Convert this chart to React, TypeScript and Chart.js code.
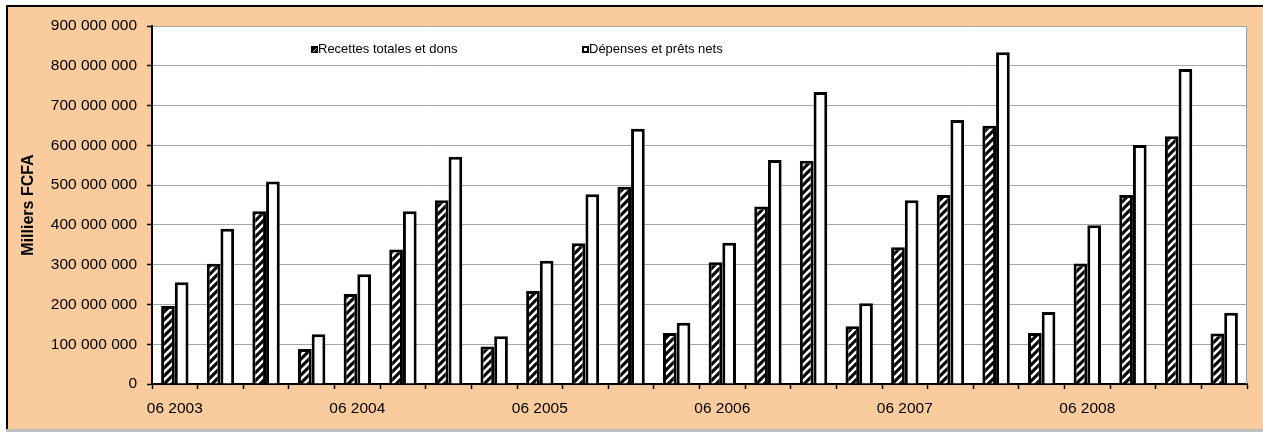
import React, { useEffect, useRef } from "react";
import { Chart, registerables } from "chart.js";

Chart.register(...registerables);

// Quarterly cumulative figures, in thousands of FCFA
const quarters = [
  "06 2003", "09 2003", "12 2003", "03 2004",
  "06 2004", "09 2004", "12 2004", "03 2005",
  "06 2005", "09 2005", "12 2005", "03 2006",
  "06 2006", "09 2006", "12 2006", "03 2007",
  "06 2007", "09 2007", "12 2007", "03 2008",
  "06 2008", "09 2008", "12 2008", "03 2009",
];

const recettes = [
  196e6, 302e6, 434e6, 88e6,
  226e6, 338e6, 462e6, 94e6,
  234e6, 354e6, 496e6, 128e6,
  306e6, 446e6, 561e6, 145e6,
  344e6, 475e6, 649e6, 128e6,
  303e6, 475e6, 623e6, 127e6,
];

const depenses = [
  256e6, 390e6, 509e6, 125e6,
  276e6, 434e6, 571e6, 120e6,
  310e6, 477e6, 642e6, 154e6,
  355e6, 563e6, 734e6, 203e6,
  462e6, 664e6, 834e6, 181e6,
  399e6, 601e6, 792e6, 179e6,
];

const seriesNames = ["Recettes totales et dons", "Dépenses et prêts nets"];

const FONT = "'Liberation Sans', Arial, sans-serif";
const PEACH = "#FACB9C";

function formatThousands(v: number): string {
  return Math.round(v)
    .toString()
    .replace(/\B(?=(\d{3})+(?!\d))/g, " ");
}

function makeHatch(): CanvasPattern | string {
  const s = 8;
  const c = document.createElement("canvas");
  c.width = s;
  c.height = s;
  const g = c.getContext("2d");
  if (!g) return "#000";
  g.fillStyle = "#000";
  g.fillRect(0, 0, s, s);
  g.strokeStyle = "#fff";
  g.lineWidth = 2.6;
  g.beginPath();
  g.moveTo(0, s);
  g.lineTo(s, 0);
  g.moveTo(-2, 2);
  g.lineTo(2, -2);
  g.moveTo(s - 2, s + 2);
  g.lineTo(s + 2, s - 2);
  g.stroke();
  const p = g.createPattern(c, "repeat");
  return p || "#000";
}

export default function App() {
  const canvasRef = useRef<HTMLCanvasElement | null>(null);

  useEffect(() => {
    const canvas = canvasRef.current;
    if (!canvas) return;
    const hatch = makeHatch();

    const plotFrame = {
      id: "plotFrame",
      beforeDraw(chart: any) {
        const { ctx, chartArea: a } = chart;
        ctx.save();
        ctx.fillStyle = "#fff";
        ctx.fillRect(a.left, a.top, a.right - a.left, a.bottom - a.top);
        ctx.restore();
      },
      afterDraw(chart: any) {
        const { ctx, chartArea: a } = chart;
        ctx.save();
        // right edge of plot area
        ctx.strokeStyle = "#9A9A9A";
        ctx.lineWidth = 1;
        ctx.beginPath();
        ctx.moveTo(a.right - 0.5, a.top);
        ctx.lineTo(a.right - 0.5, a.bottom);
        ctx.stroke();

        // legend inside plot area
        const items = [
          { x: a.left + 159, fill: hatch, text: seriesNames[0] },
          { x: a.left + 430, fill: "#fff", text: seriesNames[1] },
        ];
        const y = a.top + 23.5;
        ctx.font = `13px ${FONT}`;
        ctx.textBaseline = "middle";
        ctx.textAlign = "left";
        for (const it of items) {
          ctx.fillStyle = "#000";
          ctx.fillRect(it.x, y - 3.5, 7, 7);
          ctx.fillStyle = "#fff";
          if (it.fill === "#fff") {
            ctx.fillRect(it.x + 2, y - 1.5, 3, 3);
          } else {
            ctx.beginPath();
            ctx.moveTo(it.x + 1.5, y + 2.5);
            ctx.lineTo(it.x + 5.5, y - 1.5);
            ctx.lineTo(it.x + 5.5, y - 0.5);
            ctx.lineTo(it.x + 2.5, y + 2.5);
            ctx.closePath();
            ctx.fill();
          }
          ctx.fillStyle = "#000";
          ctx.fillText(it.text, it.x + 7, y);
        }
        ctx.restore();
      },
    };

    const chart = new Chart(canvas, {
      type: "bar",
      data: {
        labels: quarters,
        datasets: [
          {
            label: seriesNames[0],
            data: recettes,
            backgroundColor: hatch as any,
            borderColor: "#000",
            borderWidth: 3,
          },
          {
            label: seriesNames[1],
            data: depenses,
            backgroundColor: "#fff",
            borderColor: "#000",
            borderWidth: 3,
          },
        ],
      },
      options: {
        responsive: false,
        animation: false,
        layout: { padding: { top: 26, right: 16, bottom: 0, left: 0 } },
        datasets: {
          bar: { categoryPercentage: 0.6, barPercentage: 1.0 },
        },
        plugins: {
          legend: { display: false },
          tooltip: { enabled: false },
        },
        scales: {
          x: {
            afterFit(scale: any) {
              scale.height = 48;
            },
            grid: {
              display: true,
              offset: true,
              drawOnChartArea: false,
              drawTicks: true,
              tickLength: 5,
              tickColor: "#000",
              tickWidth: 1.5,
            },
            border: { display: true, color: "#000", width: 2 },
            ticks: {
              autoSkip: false,
              maxRotation: 0,
              minRotation: 0,
              padding: 10,
              color: "#000",
              font: { family: FONT, size: 15.5 },
              callback: (_v: any, i: number) => (i % 4 === 0 ? quarters[i] : ""),
            },
          },
          y: {
            min: 0,
            max: 900e6,
            afterFit(scale: any) {
              scale.width = 152;
            },
            grid: {
              color: "#A6A6A6",
              lineWidth: 1,
              drawTicks: true,
              tickLength: 5,
              tickColor: "#000",
              tickWidth: 1.5,
            },
            border: { display: true, color: "#000", width: 2 },
            ticks: {
              stepSize: 100e6,
              padding: 10,
              color: "#000",
              font: { family: FONT, size: 15.5 },
              callback: (v: any) => formatThousands(Number(v)),
            },
            title: {
              display: true,
              text: "Milliers FCFA",
              color: "#000",
              font: { family: FONT, size: 16, weight: "bold" },
              padding: { top: 19, bottom: 0 },
            },
          },
        },
      },
      plugins: [plotFrame],
    });

    return () => chart.destroy();
  }, []);

  return (
    <div
      style={{
        position: "fixed",
        left: 0,
        top: 0,
        width: 1263,
        height: 432,
        background: "#fff",
        overflow: "hidden",
      }}
    >
      <div
        style={{
          position: "absolute",
          left: 6,
          top: 5,
          width: 1257,
          height: 424,
          boxSizing: "border-box",
          background: PEACH,
          borderLeft: "2px solid #000",
          borderTop: "2px solid #000",
        }}
      />
      <div
        style={{
          position: "absolute",
          left: 6,
          top: 429,
          width: 1257,
          height: 3,
          background: "#BFBFBF",
        }}
      />
      <canvas
        ref={canvasRef}
        width={1263}
        height={432}
        style={{ position: "absolute", left: 0, top: 0, width: 1263, height: 432 }}
      />
    </div>
  );
}
